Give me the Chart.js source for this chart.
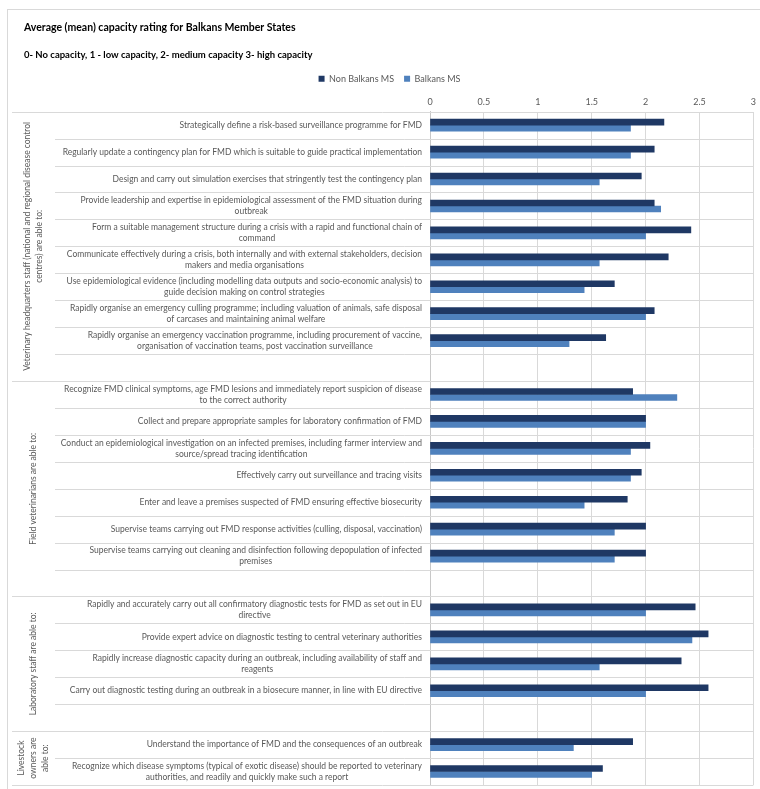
<!DOCTYPE html>
<html>
<head>
<meta charset="utf-8">
<script src="https://cdn.jsdelivr.net/npm/chart.js@4/dist/chart.umd.min.js"></script>
<style>
  html, body { margin: 0; padding: 0; background: #fff; }
  canvas { display: block; }
</style>
</head>
<body>
<canvas id="chart" width="760" height="789"></canvas>
<script>
// category labels, one entry per row (empty rows split the groups)
const categories = [
  'Strategically define a risk-based surveillance programme for FMD',
  'Regularly update a contingency plan for FMD which is suitable to guide practical implementation',
  'Design and carry out simulation exercises that stringently test the contingency plan',
  ['Provide leadership and expertise in epidemiological assessment of the FMD situation during', 'outbreak'],
  ['Form a suitable management structure during a crisis with a rapid and functional chain of', 'command'],
  ['Communicate effectively during a crisis, both internally and with external stakeholders, decision', 'makers and media organisations'],
  ['Use epidemiological evidence (including modelling data outputs and socio-economic analysis) to', 'guide decision making on control strategies'],
  ['Rapidly organise an emergency culling programme; including valuation of animals, safe disposal', 'of carcases and maintaining animal welfare'],
  ['Rapidly organise an emergency vaccination programme, including procurement of vaccine,', 'organisation of vaccination teams, post vaccination surveillance'],
  '',
  ['Recognize FMD clinical symptoms, age FMD lesions and immediately report suspicion of disease', 'to the correct authority'],
  'Collect and prepare appropriate samples for laboratory confirmation of FMD',
  ['Conduct an epidemiological investigation on an infected premises, including farmer interview and', 'source/spread tracing identification'],
  'Effectively carry out surveillance and tracing visits',
  'Enter and leave a premises suspected of FMD ensuring effective biosecurity',
  'Supervise teams carrying out FMD response activities (culling, disposal, vaccination)',
  ['Supervise teams carrying out cleaning and disinfection following depopulation of infected', 'premises'],
  '',
  ['Rapidly and accurately carry out all confirmatory diagnostic tests for FMD as set out in EU', 'directive'],
  'Provide expert advice on diagnostic testing to central veterinary authorities',
  ['Rapidly increase diagnostic capacity during an outbreak, including availability of staff and', 'reagents'],
  'Carry out diagnostic testing during an outbreak in a biosecure manner, in line with EU directive',
  '',
  'Understand the importance of FMD and the consequences of an outbreak',
  ['Recognize which disease symptoms (typical of exotic disease) should be reported to veterinary', 'authorities, and readily and quickly make such a report']
];

const nonBalkans = [2.17, 2.08, 1.96, 2.08, 2.42, 2.21, 1.71, 2.08, 1.63, null,
                    1.88, 2.0, 2.04, 1.96, 1.83, 2.0, 2.0, null,
                    2.46, 2.58, 2.33, 2.58, null,
                    1.88, 1.6];
const balkans = [1.86, 1.86, 1.57, 2.14, 2.0, 1.57, 1.43, 2.0, 1.29, null,
                 2.29, 2.0, 1.86, 1.86, 1.43, 1.71, 1.71, null,
                 2.0, 2.43, 1.57, 2.0, null,
                 1.33, 1.5];

const groupNames = [
  ['Veterinary headquarters staff (national and regional disease control', 'centres) are able to:'],
  ['Field veterinarians are able to:'],
  ['Laboratory staff are able to:'],
  ['Livestock', 'owners are', 'able to:']
];
const groupRows = [10, 8, 5, 2];

const gridColor = '#d9d9d9';
const textColor = '#595959';
const fontFamily = 'Lato, "Open Sans", sans-serif';

// frame, row lines and the text on the left
const sidePlugin = {
  id: 'side',
  beforeDraw(chart) {
    const ctx = chart.ctx;
    ctx.save();
    ctx.strokeStyle = gridColor;
    ctx.lineWidth = 1;
    ctx.strokeRect(7.5, 9.5, 800, 800);
    ctx.restore();
  },
  afterDatasetsDraw(chart) {
    const ctx = chart.ctx;
    const y = chart.scales.y;
    const area = chart.chartArea;
    const rowH = (y.getPixelForValue(1) - y.getPixelForValue(0));

    // horizontal lines at every row edge, longer at group edges
    const groupEdges = [0];
    groupRows.reduce((a, n) => { groupEdges.push(a + n); return a + n; }, 0);
    ctx.save();
    ctx.strokeStyle = gridColor;
    ctx.lineWidth = 1;
    for (let i = 0; i <= categories.length; i++) {
      const py = Math.round(y.getPixelForValue(i) - rowH / 2) + 0.5;
      const x0 = groupEdges.includes(i) ? 12 : 55;
      ctx.beginPath();
      ctx.moveTo(x0, py);
      ctx.lineTo(area.right, py);
      ctx.stroke();
    }

    // category labels
    ctx.fillStyle = textColor;
    ctx.font = '8.5px ' + fontFamily;
    ctx.textBaseline = 'middle';
    const right = area.left - 8;
    categories.forEach((lab, i) => {
      const lines = Array.isArray(lab) ? lab : [lab];
      const cy = y.getPixelForValue(i);
      const lh = 11;
      if (lines.length === 1) {
        ctx.textAlign = 'right';
        ctx.fillText(lines[0], right, cy);
      } else {
        const w = Math.max(...lines.map(l => ctx.measureText(l).width));
        ctx.textAlign = 'center';
        lines.forEach((l, k) => {
          ctx.fillText(l, right - w / 2, cy + (k - (lines.length - 1) / 2) * lh);
        });
      }
    });

    // group labels, turned on their side
    let start = 0;
    groupNames.forEach((lines, g) => {
      const end = start + groupRows[g];
      const cy = (y.getPixelForValue(start) + y.getPixelForValue(end - 1)) / 2;
      ctx.save();
      ctx.translate(33, cy);
      ctx.rotate(-Math.PI / 2);
      ctx.textAlign = 'center';
      lines.forEach((l, k) => {
        ctx.fillText(l, 0, (k - (lines.length - 1) / 2) * 12);
      });
      ctx.restore();
      start = end;
    });
    ctx.restore();
  }
};

new Chart(document.getElementById('chart'), {
  type: 'bar',
  data: {
    labels: categories,
    datasets: [
      { label: 'Non Balkans MS', data: nonBalkans, backgroundColor: '#1f3864', barThickness: 6 },
      { label: 'Balkans MS', data: balkans, backgroundColor: '#4f81bd', barThickness: 6 }
    ]
  },
  options: {
    indexAxis: 'y',
    responsive: false,
    animation: false,
    devicePixelRatio: 1,
    layout: { padding: { left: 24, right: 5, top: 0, bottom: 4 } },
    scales: {
      x: {
        position: 'top',
        min: 0,
        max: 3,
        ticks: {
          stepSize: 0.5,
          color: textColor,
          font: { family: fontFamily, size: 9 },
          padding: 4,
          callback: v => String(v)
        },
        grid: { color: gridColor, drawTicks: false },
        border: { display: false },
        afterFit: s => { s.height = 18.5; }
      },
      y: {
        ticks: { display: false },
        grid: { display: false },
        border: { display: true, color: '#c8c8c8' },
        afterFit: s => { s.width = 406; }
      }
    },
    plugins: {
      title: {
        display: true,
        text: 'Average (mean) capacity rating for Balkans Member States',
        align: 'start',
        color: '#000',
        font: { family: fontFamily, size: 10.5, weight: 'bold' },
        padding: { top: 21.3, bottom: 0 }
      },
      subtitle: {
        display: true,
        text: '0- No capacity, 1 - low capacity, 2- medium capacity 3- high capacity',
        align: 'start',
        color: '#000',
        font: { family: fontFamily, size: 9.5, weight: 'bold' },
        padding: { top: 15.1, bottom: 3.8 }
      },
      legend: {
        display: true,
        labels: { boxWidth: 6, boxHeight: 6, padding: 10, color: textColor, font: { family: fontFamily, size: 9 } }
      },
      tooltip: { enabled: false }
    }
  },
  plugins: [sidePlugin]
});
</script>
</body>
</html>
